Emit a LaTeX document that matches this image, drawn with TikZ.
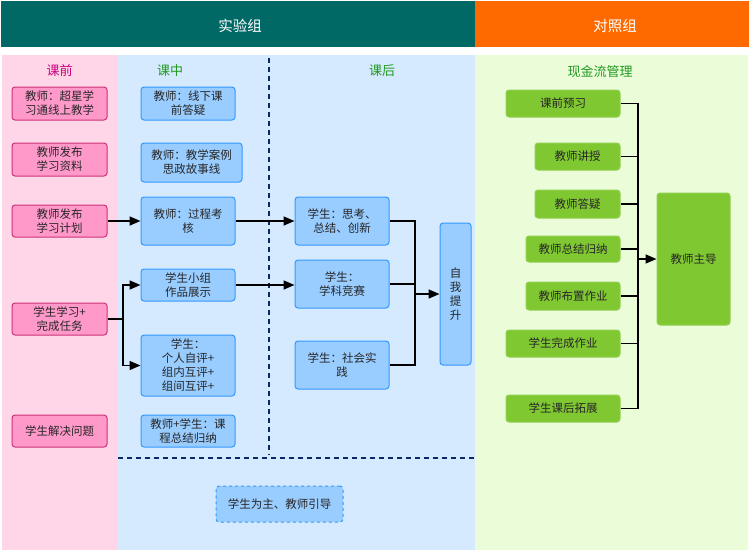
\documentclass[tikz,border=0pt]{standalone}
\usepackage{fontspec}
\setmainfont{Noto Sans CJK SC}
\usepackage{xcolor}
\usepackage{tikz}
\usetikzlibrary{arrows.meta}

\definecolor{headteal}{HTML}{006966}
\definecolor{headorange}{HTML}{FF6A00}
\definecolor{pinkbg}{HTML}{FFD5E8}
\definecolor{pinkfill}{HTML}{FF99CA}
\definecolor{pinkline}{HTML}{CC3377}
\definecolor{pinktext}{HTML}{CC0080}
\definecolor{bluebg}{HTML}{D6EAFF}
\definecolor{bluefill}{HTML}{99CCFF}
\definecolor{blueline}{HTML}{3399FF}
\definecolor{greenbg}{HTML}{EBFCD9}
\definecolor{greenfill}{HTML}{80C832}
\definecolor{greentext}{HTML}{229922}
\definecolor{navy}{HTML}{0A2766}

\begin{document}
\begin{tikzpicture}[x=1pt,y=-1pt,
    box/.style={rounded corners=3pt, line width=1pt, align=center, inner sep=0pt,
      font=\fontsize{11.5}{14}\selectfont, text=black!85},
    pinkbox/.style={box, draw=pinkline, fill=pinkfill},
    bluebox/.style={box, draw=blueline, fill=bluefill},
    greenbox/.style={box, draw=greenfill!85!white, fill=greenfill},
    title/.style={font=\fontsize{14.5}{16}\selectfont, text=white},
    phase/.style={font=\fontsize{13}{15}\selectfont},
    link/.style={line width=1.6pt},
    flow/.style={link, -{Triangle[length=11pt,width=9pt]}},
    sep/.style={navy, line width=1.4pt, dash pattern=on 5pt off 4pt}]
    \useasboundingbox (0,0) rectangle (749,552);
    % header and columns
    \fill[headteal] (1,1) rectangle (475,47);
    \fill[headorange] (475,1) rectangle (749,47);
    \fill[pinkbg] (2,55) rectangle (118,550);
    \fill[bluebg] (118,55) rectangle (475,550);
    \fill[greenbg] (475,55) rectangle (748,550);
    \node[title] (shiyan) at (240,26) {实验组};
    \node[title] (duizhao) at (615,26) {对照组};
    \draw[sep] (269,58) -- (269,455);
    \draw[sep] (118,458) -- (475,458);
    \node[phase, text=pinktext] (kqian) at (59.5,71) {课前};
    \node[phase, text=greentext] (kzhong) at (170,71) {课中};
    \node[phase, text=greentext] (khou) at (382,71) {课后};
    \node[phase, text=greentext] (xjl) at (600,72) {现金流管理};
    % before class
    \node[pinkbox, minimum width=95pt, minimum height=33pt] (qian1) at (59.5,103.5) {教师：超星学\\习通线上教学};
    \node[pinkbox, minimum width=95pt, minimum height=33pt] (qian2) at (59.5,159.5) {教师发布\\学习资料};
    \node[pinkbox, minimum width=95pt, minimum height=32pt] (qian3) at (59.5,221) {教师发布\\学习计划};
    \node[pinkbox, minimum width=95pt, minimum height=32pt] (qian4) at (59.5,319) {学生学习+\\完成任务};
    \node[pinkbox, minimum width=95pt, minimum height=32pt] (qian5) at (59.5,431) {学生解决问题};
    % in class
    \node[bluebox, minimum width=94pt, minimum height=33pt] (zhong1) at (188,103.5) {教师：线下课\\前答疑};
    \node[bluebox, minimum width=101pt, minimum height=39pt] (zhong2) at (191.5,162.5) {教师：教学案例\\思政故事线};
    \node[bluebox, minimum width=94pt, minimum height=48pt] (zhong3) at (188,221) {教师：过程考\\核};
    \node[bluebox, minimum width=94pt, minimum height=32pt] (zhong4) at (188,285) {学生小组\\作品展示};
    \node[bluebox, minimum width=94pt, minimum height=61pt] (zhong5) at (188,365.5) {学生：\\个人自评+\\组内互评+\\组间互评+};
    \node[bluebox, minimum width=94pt, minimum height=32pt] (zhong6) at (188,431) {教师+学生：课\\程总结归纳};
    % after class
    \node[bluebox, minimum width=94pt, minimum height=48pt] (hou1) at (342,221) {学生：思考、\\总结、创新};
    \node[bluebox, minimum width=94pt, minimum height=48pt] (hou2) at (342,284) {学生：\\学科竞赛};
    \node[bluebox, minimum width=94pt, minimum height=48pt] (hou3) at (342,365) {学生：社会实\\践};
    \node[bluebox, minimum width=31pt, minimum height=142pt] (tisheng) at (455.5,294) {自\\我\\提\\升};
    \node[bluebox, dashed, minimum width=127pt, minimum height=36pt] (zhudao) at (279.5,504) {学生为主、教师引导};
    % control group
    \node[greenbox, minimum width=114pt, minimum height=27pt] (dz1) at (563,103.5) {课前预习};
    \node[greenbox, minimum width=85pt, minimum height=27pt] (dz2) at (577.5,156.5) {教师讲授};
    \node[greenbox, minimum width=85pt, minimum height=28pt] (dz3) at (577.5,204) {教师答疑};
    \node[greenbox, minimum width=94pt, minimum height=26pt] (dz4) at (573,249) {教师总结归纳};
    \node[greenbox, minimum width=94pt, minimum height=28pt] (dz5) at (573,296) {教师布置作业};
    \node[greenbox, minimum width=114pt, minimum height=27pt] (dz6) at (563,343.5) {学生完成作业};
    \node[greenbox, minimum width=114pt, minimum height=27pt] (dz7) at (563,408.5) {学生课后拓展};
    \node[greenbox, minimum width=73pt, minimum height=132pt] (jszd) at (693.5,259) {教师主导};
    % connectors
    \coordinate (fen) at (123,319);
    \coordinate (hui) at (415,294);
    \coordinate (zong) at (638,259);
    \draw[flow] (qian3) -- (zhong3);
    \draw[flow] (zhong3) -- (hou1);
    \draw[link] (qian4.east) -- (fen);
    \draw[flow] (fen) |- (zhong4.west);
    \draw[flow] (fen) |- (zhong5.west);
    \draw[flow] (zhong4.east) -- (zhong4.east -| hou2.west);
    \draw[link] (hou1.east) -| (hui);
    \draw[link] (hou2.east) -- (hou2.east -| hui);
    \draw[link] (hou3.east) -| (hui);
    \draw[flow] (hui) -- (tisheng);
    \draw[link] (dz1.east) -| (zong);
    \draw[link] (dz7.east) -| (zong);
    \foreach \i in {2,...,6}
      \draw[link] (dz\i.east) -- (dz\i.east -| zong);
    \draw[flow] (zong) -- (jszd);
\end{tikzpicture}
\end{document}
